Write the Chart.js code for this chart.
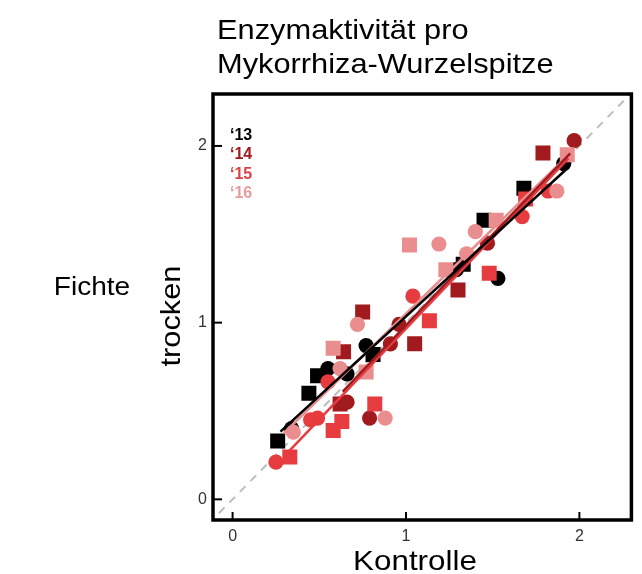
<!DOCTYPE html>
<html><head><meta charset="utf-8">
<script src="https://cdn.jsdelivr.net/npm/chart.js@4/dist/chart.umd.min.js"></script>
<style>
html,body{margin:0;padding:0;background:#fff;}
#wrap{position:relative;width:642px;height:574px;overflow:hidden;background:#fff;}
canvas{position:absolute;left:0;top:0;}
.t{position:absolute;font-family:"Liberation Sans",Arial,sans-serif;color:#000;white-space:nowrap;line-height:1;}
.c{width:300px;text-align:center;transform-origin:50% 50%;}
.lg{font-weight:bold;font-size:16px;}
</style></head><body>
<div id="wrap">
<canvas id="c" width="642" height="574"></canvas>
<div class="t" style="left:217px;top:16px;font-size:28px;transform:scaleX(1.1);transform-origin:0 0;">Enzymaktivität pro</div>
<div class="t" style="left:217px;top:50px;font-size:28px;transform:scaleX(1.1);transform-origin:0 0;">Mykorrhiza-Wurzelspitze</div>
<div class="t c" style="left:-58px;top:273px;font-size:26px;transform:scaleX(1.08);">Fichte</div>
<div class="t c" style="left:21px;top:302px;font-size:28px;transform:rotate(-90deg) scaleX(1.1);">trocken</div>
<div class="t c" style="left:265px;top:547px;font-size:28px;transform:scaleX(1.12);">Kontrolle</div>
<div class="t lg" style="left:230px;top:127px;color:#000000;">‘13</div>
<div class="t lg" style="left:230px;top:146px;color:#a01a1e;">‘14</div>
<div class="t lg" style="left:230px;top:166px;color:#dc4244;">‘15</div>
<div class="t lg" style="left:230px;top:185px;color:#e99a9b;">‘16</div>
</div>
<script>
// ---- data (Kontrolle = x, trocken = y); form: s = square, c = circle ----
const years = ["‘13", "‘14", "‘15", "‘16"];
const colors = ["#000000", "#a01a1e", "#e63b3f", "#e98d8f"];

const kontrolle13 = [0.26, 0.44, 0.49, 0.81, 1.33, 1.45, 1.68, 0.34, 0.55, 0.66, 0.77, 1.29, 1.53, 1.91];
const trocken13   = [0.33, 0.60, 0.70, 0.82, 1.33, 1.58, 1.76, 0.40, 0.74, 0.71, 0.87, 1.30, 1.25, 1.90];
const form13      = ["s","s","s","s","s","s","s","c","c","c","c","c","c","c"];

const kontrolle14 = [0.62, 0.64, 0.75, 1.05, 1.30, 1.79, 0.66, 0.79, 0.91, 0.96, 1.47, 1.97];
const trocken14   = [0.54, 0.835, 1.06, 0.88, 1.185, 1.96, 0.55, 0.46, 0.88, 0.99, 1.45, 2.03];
const form14      = ["s","s","s","s","s","s","c","c","c","c","c","c"];

const kontrolle15 = [0.33, 0.58, 0.63, 0.82, 1.135, 1.48, 1.69, 0.25, 0.45, 0.49, 0.55, 1.04, 1.67, 1.82];
const trocken15   = [0.24, 0.39, 0.44, 0.54, 1.01, 1.28, 1.70, 0.21, 0.45, 0.46, 0.665, 1.15, 1.60, 1.745];
const form15      = ["s","s","s","s","s","s","s","c","c","c","c","c","c","c"];

const kontrolle16 = [0.58, 0.77, 1.02, 1.23, 1.52, 1.93, 0.35, 0.62, 0.72, 0.88, 1.19, 1.35, 1.40, 1.87];
const trocken16   = [0.855, 0.72, 1.44, 1.30, 1.58, 1.95, 0.38, 0.74, 0.99, 0.46, 1.445, 1.39, 1.515, 1.745];
const form16      = ["s","s","s","s","s","s","c","c","c","c","c","c","c","c"];

// regression line end points per year
const fitX13 = [0.276, 1.92], fitY13 = [0.383, 1.864];
const fitX14 = [0.635, 1.947], fitY14 = [0.61, 1.958];
const fitX15 = [0.323, 1.937], fitY15 = [0.27, 1.93];
const fitX16 = [0.295, 1.966], fitY16 = [0.374, 1.977];

// 1:1 reference line
const diagX = [-0.2, 2.4], diagY = [-0.2, 2.4];

const xTicks = [0, 1, 2];
const yTicks = [0, 1, 2];

// ---- build ----
const pts = [
  [kontrolle13, trocken13, form13],
  [kontrolle14, trocken14, form14],
  [kontrolle15, trocken15, form15],
  [kontrolle16, trocken16, form16]
];
const fits = [[fitX13, fitY13], [fitX14, fitY14], [fitX15, fitY15], [fitX16, fitY16]];
const toXY = (xs, ys) => xs.map((v, i) => ({x: v, y: ys[i]}));

const datasets = [];
fits.forEach((f, i) => {
  datasets.push({
    label: years[i] + " fit", data: toXY(f[0], f[1]), showLine: true,
    borderColor: colors[i], borderWidth: 2.5, pointRadius: 0, order: 0
  });
});
pts.forEach((p, i) => {
  datasets.push({
    label: years[i], data: toXY(p[0], p[1]),
    pointStyle: p[2].map(s => s === "s" ? "rect" : "circle"),
    pointRadius: p[2].map(s => s === "s" ? 10.6 : 7.6),
    pointHoverRadius: p[2].map(s => s === "s" ? 10.6 : 7.6),
    backgroundColor: colors[i], borderWidth: 0, order: 4 - i
  });
});
datasets.push({
  label: "1:1", data: toXY(diagX, diagY), showLine: true,
  borderColor: "#bdbdbd", borderWidth: 2, borderDash: [8, 7], pointRadius: 0, order: 10
});

const framePlugin = {
  id: "frame",
  afterDraw(chart) {
    const {ctx, chartArea: a, scales: {x, y}} = chart;
    ctx.save();
    ctx.strokeStyle = "#000";
    ctx.lineWidth = 2;
    x.ticks.forEach(t => {
      const px = x.getPixelForValue(t.value);
      ctx.beginPath(); ctx.moveTo(px, a.bottom); ctx.lineTo(px, a.bottom - 8); ctx.stroke();
    });
    y.ticks.forEach(t => {
      const py = y.getPixelForValue(t.value);
      ctx.beginPath(); ctx.moveTo(a.left, py); ctx.lineTo(a.left + 9, py); ctx.stroke();
    });
    ctx.lineWidth = 3.5;
    ctx.strokeRect(a.left, a.top, a.right - a.left, a.bottom - a.top);
    ctx.restore();
  }
};

const tickFont = {family: "'Liberation Sans', Arial, sans-serif", size: 16};

new Chart(document.getElementById("c"), {
  type: "scatter",
  data: {datasets},
  options: {
    responsive: false,
    animation: false,
    devicePixelRatio: 1,
    layout: {padding: {left: 0, top: 94, right: 3, bottom: 0}},
    plugins: {legend: {display: false}, tooltip: {enabled: false}},
    scales: {
      x: {
        type: "linear", min: -0.113, max: 2.30,
        grid: {display: false, drawTicks: false}, border: {display: false},
        afterBuildTicks: s => { s.ticks = xTicks.map(v => ({value: v})); },
        ticks: {font: tickFont, color: "#333", padding: 7, maxRotation: 0},
        afterFit: s => { s.height = 54; }
      },
      y: {
        type: "linear", min: -0.117, max: 2.294,
        grid: {display: false, drawTicks: false}, border: {display: false},
        afterBuildTicks: s => { s.ticks = yTicks.map(v => ({value: v})); },
        ticks: {font: tickFont, color: "#333", padding: 6},
        afterFit: s => { s.width = 213; }
      }
    }
  },
  plugins: [framePlugin]
});
</script>
</body></html>
